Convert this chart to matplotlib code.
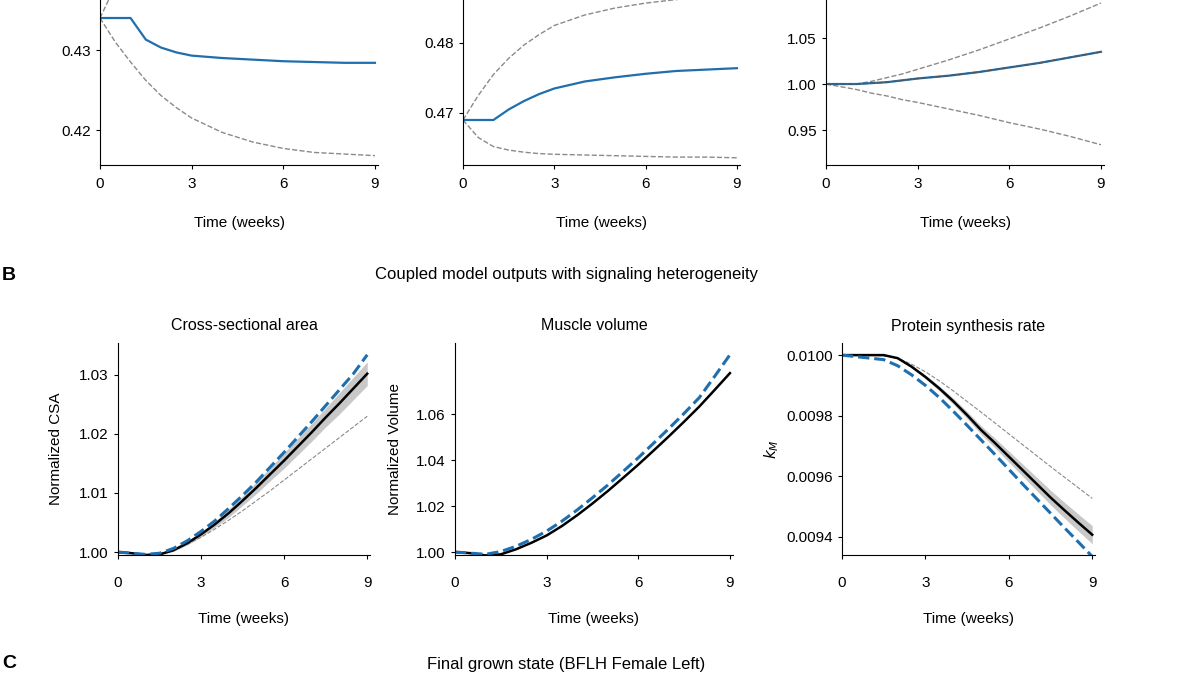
import numpy as np
import matplotlib
matplotlib.use("Agg")
from matplotlib import pyplot as plt

plt.rcParams['font.family'] = ['Liberation Sans', 'DejaVu Sans']
plt.rcParams['font.size'] = 11

BLUE = '#1f6fae'
GREY = '#8a8a8a'

# ---- top row (heterogeneity in parameters) ----
t_top = [0, 0.5, 1, 1.5, 2, 2.5, 3, 4, 5, 6, 7, 8, 9]
tl_blue = [0.4340, 0.4340, 0.4340, 0.4313, 0.4303, 0.4297, 0.4293, 0.4290, 0.4288, 0.4286, 0.4285, 0.4284, 0.4284]
tl_hi = [0.4340, 0.4380, 0.4400, 0.4410, 0.4420, 0.4425, 0.4430, 0.4435, 0.4440, 0.4440, 0.4440, 0.4440, 0.4440]
tl_lo = [0.4340, 0.4310, 0.4285, 0.4262, 0.4243, 0.4228, 0.4215, 0.4197, 0.4185, 0.4177, 0.4172, 0.4170, 0.4168]

tm_blue = [0.4690, 0.4690, 0.4690, 0.4705, 0.4717, 0.4727, 0.4735, 0.4745, 0.4751, 0.4756, 0.4760, 0.4762, 0.4764]
tm_hi = [0.4690, 0.4725, 0.4755, 0.4778, 0.4797, 0.4812, 0.4825, 0.4840, 0.4850, 0.4857, 0.4862, 0.4866, 0.4870]
tm_lo = [0.4690, 0.4665, 0.4652, 0.4647, 0.4644, 0.4642, 0.4641, 0.4640, 0.4639, 0.4638, 0.4637, 0.4637, 0.4636]

tr_blue = [1.000, 1.000, 1.000, 1.001, 1.002, 1.004, 1.006, 1.009, 1.013, 1.018, 1.023, 1.029, 1.035]
tr_hi = [1.000, 1.000, 1.000, 1.003, 1.007, 1.011, 1.016, 1.026, 1.037, 1.049, 1.061, 1.074, 1.088]
tr_lo = [1.000, 0.997, 0.994, 0.990, 0.987, 0.983, 0.980, 0.973, 0.966, 0.958, 0.951, 0.943, 0.934]

# ---- bottom row (coupled model) ----
t_bot = [0, 0.5, 1, 1.5, 2, 2.5, 3, 3.5, 4, 4.5, 5, 5.5, 6, 6.5, 7, 7.5, 8, 8.5, 9]
csa_black = [1.0000, 0.9998, 0.9995, 0.9996, 1.0003, 1.0015, 1.0030, 1.0047, 1.0066, 1.0087, 1.0109, 1.0132, 1.0155, 1.0179, 1.0203, 1.0228, 1.0252, 1.0277, 1.0302]
csa_blue = [1.0000, 0.9998, 0.9996, 0.9998, 1.0006, 1.0019, 1.0035, 1.0053, 1.0074, 1.0096, 1.0119, 1.0144, 1.0169, 1.0195, 1.0221, 1.0248, 1.0275, 1.0302, 1.0334]
csa_thin = [1.0000, 0.9998, 0.9996, 0.9997, 1.0003, 1.0013, 1.0025, 1.0039, 1.0054, 1.0070, 1.0087, 1.0104, 1.0122, 1.0140, 1.0158, 1.0176, 1.0194, 1.0212, 1.0230]
csa_band = [0, 0, 0, 0.0001, 0.0002, 0.0003, 0.0004, 0.0005, 0.0007, 0.0008, 0.0010, 0.0011, 0.0013, 0.0014, 0.0015, 0.0016, 0.0018, 0.0019, 0.0020]

vol_black = [1.000, 0.9995, 0.9985, 0.9990, 1.0012, 1.0040, 1.0072, 1.0113, 1.0160, 1.0211, 1.0265, 1.0322, 1.0380, 1.0441, 1.0503, 1.0567, 1.0633, 1.0705, 1.0778]
vol_blue = [1.000, 0.9995, 0.9990, 1.0002, 1.0025, 1.0055, 1.0091, 1.0134, 1.0183, 1.0236, 1.0291, 1.0350, 1.0410, 1.0473, 1.0537, 1.0603, 1.0672, 1.0764, 1.0858]

psr_black = [0.010000, 0.010000, 0.010000, 0.0100, 0.009990, 0.009962, 0.009928, 0.009890, 0.009848, 0.009802, 0.009753, 0.009710, 0.009665, 0.009620, 0.009575, 0.009530, 0.009488, 0.009447, 0.009407]
psr_blue = [0.010000, 0.009995, 0.009990, 0.009985, 0.009965, 0.009935, 0.009900, 0.009860, 0.009815, 0.009768, 0.009720, 0.009672, 0.009623, 0.009574, 0.009526, 0.009478, 0.009430, 0.009383, 0.009335]
psr_thin = [0.010000, 0.010000, 0.010000, 0.009998, 0.009990, 0.009970, 0.009945, 0.009915, 0.009882, 0.009847, 0.009812, 0.009776, 0.009740, 0.009704, 0.009668, 0.009632, 0.009597, 0.009562, 0.009527]
psr_band = [0, 0, 0, 0, 0.000002, 0.000004, 0.000006, 0.000008, 0.000010, 0.000012, 0.000014, 0.000016, 0.000018, 0.000020, 0.000022, 0.000024, 0.000026, 0.000028, 0.000030]

W, H = 1200, 675
fig = plt.figure(figsize=(12, 6.75), dpi=100)


def px_axes(x0, y0, x1, y1):
    return fig.add_axes([x0 / W, 1 - y1 / H, (x1 - x0) / W, (y1 - y0) / H])


def style(ax, tpad=4, pad=18):
    for s in ['top', 'right']:
        ax.spines[s].set_visible(False)
    ax.set_xlim(0, 9.1)
    ax.set_xticks([0, 3, 6, 9])
    ax.tick_params(direction='out', length=3)
    ax.tick_params(axis='x', pad=tpad)
    ax.set_xlabel('Time (weeks)', labelpad=pad)


# top row (tops are cut off by the crop)
ax = px_axes(100, -80, 378, 165)
ax.plot(t_top, tl_hi, '--', color=GREY, lw=1)
ax.plot(t_top, tl_lo, '--', color=GREY, lw=1)
ax.plot(t_top, tl_blue, color=BLUE, lw=1.6)
ax.set_ylim(0.41563, 0.43625 + 80 / 8000)
ax.set_yticks([0.42, 0.43])
style(ax, tpad=6)

ax = px_axes(463, -80, 740, 165)
ax.plot(t_top, tm_hi, '--', color=GREY, lw=1)
ax.plot(t_top, tm_lo, '--', color=GREY, lw=1)
ax.plot(t_top, tm_blue, color=BLUE, lw=1.6)
ax.set_ylim(0.46257, 0.48614 + 80 / 7000)
ax.set_yticks([0.47, 0.48])
style(ax, tpad=6)

ax = px_axes(826, -80, 1104, 165)
ax.plot(t_top, tr_hi, '--', color=GREY, lw=1)
ax.plot(t_top, tr_lo, '--', color=GREY, lw=1)
ax.plot(t_top, tr_blue, color=BLUE, lw=1.6)
ax.plot(t_top, tr_blue, '--', color='#555555', lw=1)
ax.set_ylim(0.912, 1.0913 + 80 / 920)
ax.set_yticks([0.95, 1.00, 1.05])
ax.set_yticklabels(['0.95', '1.00', '1.05'])
style(ax, tpad=6)

# section B
fig.text(2 / W, 1 - 275 / H, 'B', fontsize=14, fontweight='bold', va='center')
fig.text(0.472, 1 - 275 / H, 'Coupled model outputs with signaling heterogeneity', ha='center', va='center', fontsize=12)

ax = px_axes(118, 343, 370, 555)
lo = np.array(csa_black) - np.array(csa_band)
hi = np.array(csa_black) + np.array(csa_band)
ax.fill_between(t_bot, lo, hi, color='#c8c8c8', lw=0)
ax.plot(t_bot, csa_thin, '--', color=GREY, lw=0.8)
ax.plot(t_bot, csa_black, color='black', lw=1.8)
ax.plot(t_bot, csa_blue, '--', color=BLUE, lw=2.2)
ax.set_ylim(0.9995, 1.0354)
ax.set_yticks([1.00, 1.01, 1.02, 1.03])
ax.set_yticklabels(['1.00', '1.01', '1.02', '1.03'])
ax.set_ylabel('Normalized CSA', labelpad=12)
ax.set_title('Cross-sectional area', fontsize=11.5, pad=9)
style(ax, tpad=12, pad=16)

ax = px_axes(455, 343, 733, 555)
ax.plot(t_bot, vol_black, color='black', lw=1.8)
ax.plot(t_bot, vol_blue, '--', color=BLUE, lw=2.2)
ax.set_ylim(0.9987, 1.0909)
ax.set_yticks([1.00, 1.02, 1.04, 1.06])
ax.set_yticklabels(['1.00', '1.02', '1.04', '1.06'])
ax.set_ylabel('Normalized Volume', labelpad=10)
ax.set_title('Muscle volume', fontsize=11.5, pad=9)
style(ax, tpad=12, pad=16)

ax = px_axes(842, 343, 1095, 555)
lo = np.array(psr_black) - np.array(psr_band)
hi = np.array(psr_black) + np.array(psr_band)
ax.fill_between(t_bot, lo, hi, color='#c8c8c8', lw=0)
ax.plot(t_bot, psr_thin, '--', color=GREY, lw=0.8)
ax.plot(t_bot, psr_black, color='black', lw=1.8)
ax.plot(t_bot, psr_blue, '--', color=BLUE, lw=2.2)
ax.set_ylim(0.00934, 0.01004)
ax.set_yticks([0.0094, 0.0096, 0.0098, 0.0100])
ax.set_yticklabels(['0.0094', '0.0096', '0.0098', '0.0100'])
ax.set_ylabel(r'$k_M$')
ax.set_title('Protein synthesis rate', fontsize=11.5, pad=9)
style(ax, tpad=12, pad=16)

# section C (partly cut off in the reference)
fig.text(2 / W, 1 - 664 / H, 'C', fontsize=14, fontweight='bold', va='center')
fig.text(0.472, 1 - 665 / H, 'Final grown state (BFLH Female Left)', ha='center', va='center', fontsize=12)

fig.savefig('out.png', dpi=100)
